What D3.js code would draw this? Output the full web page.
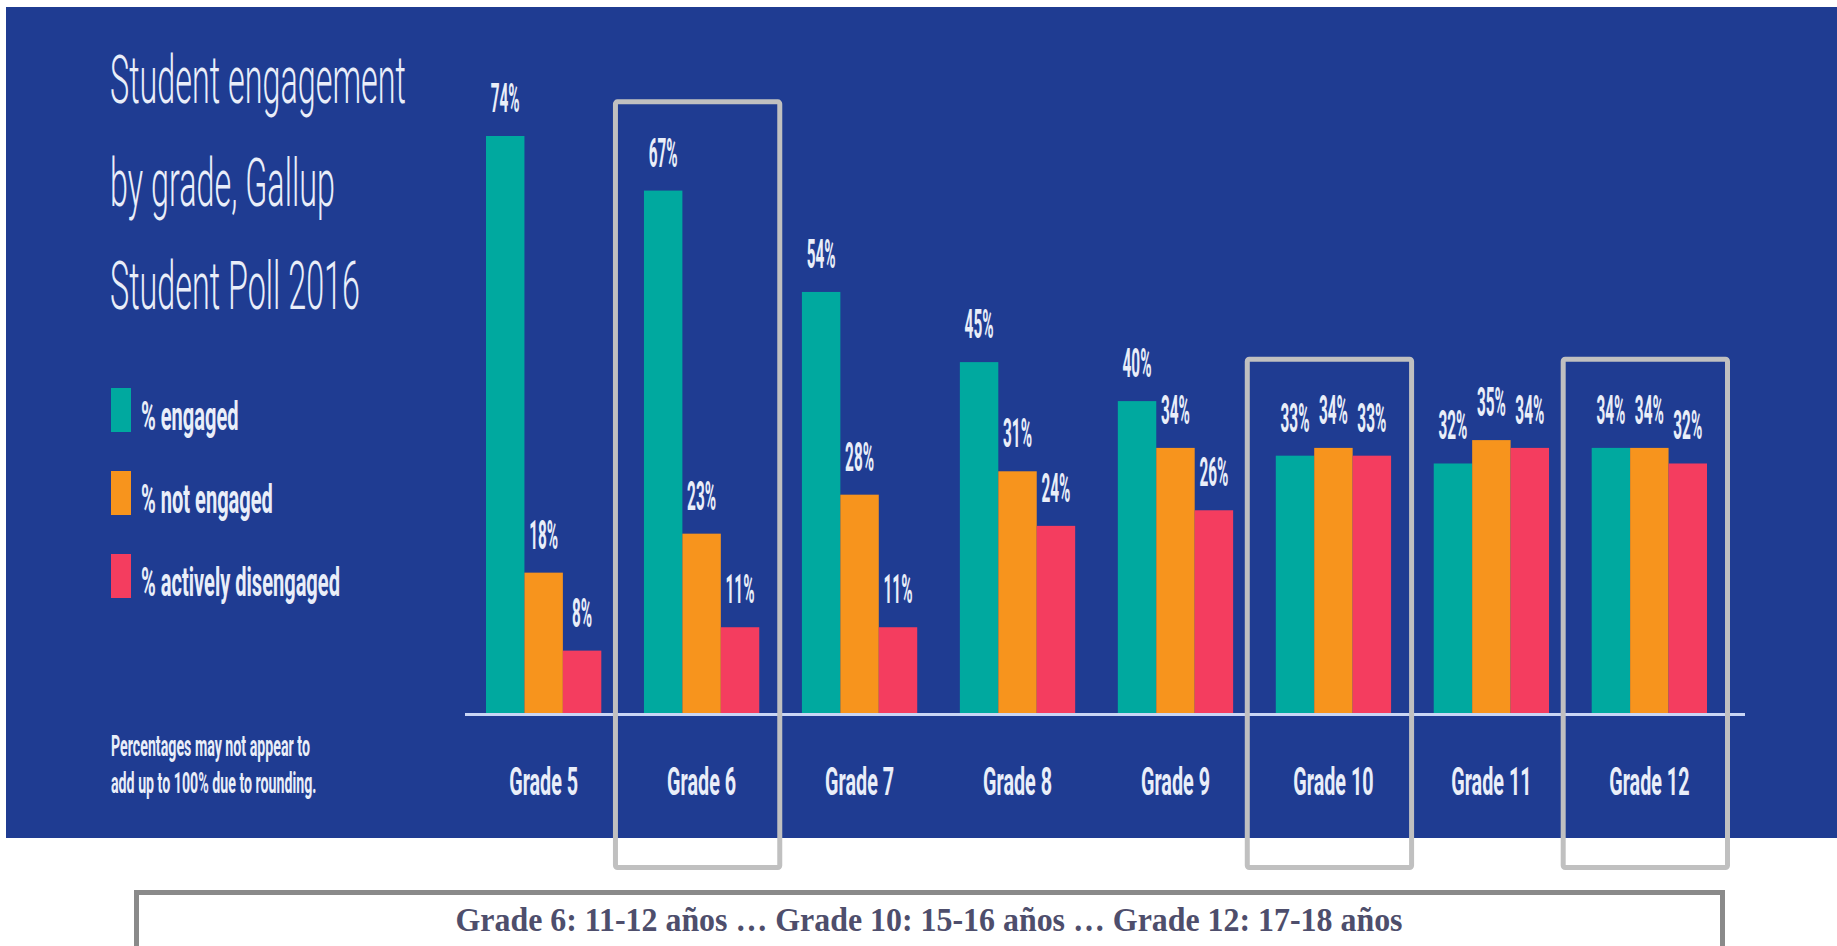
<!DOCTYPE html>
<html>
<head>
<meta charset="utf-8">
<script src="https://cdn.jsdelivr.net/npm/d3@7"></script>
<style>
  body { margin: 0; background: #fff; }
  svg { display: block; }
</style>
</head>
<body>
<svg id="chart" width="1837" height="946"></svg>
<script>
// data
const grades = ["Grade 5", "Grade 6", "Grade 7", "Grade 8", "Grade 9", "Grade 10", "Grade 11", "Grade 12"];
const engaged = [74, 67, 54, 45, 40, 33, 32, 34];
const notEngaged = [18, 23, 28, 31, 34, 34, 35, 34];
const disengaged = [8, 11, 11, 24, 26, 33, 34, 32];
const seriesNames = ["% engaged", "% not engaged", "% actively disengaged"];
const highlighted = ["Grade 6", "Grade 10", "Grade 12"];
const titleLines = ["Student engagement", "by grade, Gallup", "Student Poll 2016"];
const noteLines = ["Percentages may not appear to", "add up to 100% due to rounding."];
const caption = "Grade 6: 11-12 años \u2026 Grade 10: 15-16 años \u2026 Grade 12: 17-18 años";

const colors = ["#00a99f", "#f7941d", "#f43d5f"];
const textCol = "#e9eef9";
const series = [engaged, notEngaged, disengaged];

const svg = d3.select("#chart");

// blue panel
svg.append("rect")
    .attr("x", 6).attr("y", 7)
    .attr("width", 1831).attr("height", 831)
    .attr("fill", "#1f3c92");

// squeeze text horizontally so it looks like the condensed face of the original
function squeeze(sel, sx) {
    sel.each(function () {
        let t = d3.select(this);
        let x = +t.attr("x"), y = +t.attr("y");
        t.attr("x", 0).attr("y", 0)
            .attr("transform", "translate(" + x + "," + y + ") scale(" + sx + ",1)");
    });
}
function factor(sel, target) {
    return target / sel.node().getComputedTextLength();
}

// title
let title = svg.append("g").selectAll("text")
    .data(titleLines)
    .enter().append("text")
    .attr("x", 110)
    .attr("y", (d, i) => 103 + i * 103)
    .attr("fill", textCol)
    .style("font-family", "Roboto, 'Open Sans', sans-serif")
    .style("font-weight", 300)
    .style("font-size", "66px")
    .text(d => d);
squeeze(title, factor(title.filter((d, i) => i == 0), 296));

// legend
let legend = svg.append("g").selectAll("g")
    .data(seriesNames)
    .enter().append("g");
legend.append("rect")
    .attr("x", 111)
    .attr("y", (d, i) => 388 + i * 83)
    .attr("width", 20)
    .attr("height", 44)
    .attr("fill", (d, i) => colors[i]);
let legendText = legend.append("text")
    .attr("x", 141)
    .attr("y", (d, i) => 430 + i * 83)
    .attr("fill", textCol)
    .style("font-family", "Roboto, sans-serif")
    .style("font-weight", 700)
    .style("font-size", "40px")
    .text(d => d);
squeeze(legendText, factor(legendText.filter((d, i) => i == 2), 199));

// footnote
let note = svg.append("g").selectAll("text")
    .data(noteLines)
    .enter().append("text")
    .attr("x", 111)
    .attr("y", (d, i) => 756 + i * 37)
    .attr("fill", textCol)
    .style("font-family", "Roboto, sans-serif")
    .style("font-weight", 700)
    .style("font-size", "29px")
    .text(d => d);
squeeze(note, factor(note.filter((d, i) => i == 0), 199));

// scales
let xScale = d3.scaleBand()
    .domain(grades)
    .range([486, 1707])
    .paddingInner(0.27)
    .paddingOuter(0);
let xInner = d3.scaleBand()
    .domain(d3.range(series.length))
    .range([0, xScale.bandwidth()]);
let yScale = d3.scaleLinear()
    .domain([0, d3.max(engaged)])
    .range([713, 136]);

// bars
let groups = svg.append("g").selectAll("g")
    .data(grades)
    .enter().append("g")
    .attr("transform", d => "translate(" + xScale(d) + ",0)");

let cells = groups.selectAll("g")
    .data((g, gi) => series.map((s, si) => ({ s: si, v: s[gi] })))
    .enter().append("g");

cells.append("rect")
    .attr("x", d => xInner(d.s))
    .attr("y", d => yScale(d.v))
    .attr("width", xInner.bandwidth())
    .attr("height", d => yScale(0) - yScale(d.v))
    .attr("fill", d => colors[d.s]);

let valueLabels = cells.append("text")
    .attr("x", d => xInner(d.s) + xInner.bandwidth() / 2)
    .attr("y", d => yScale(d.v) - 24)
    .attr("fill", textCol)
    .style("text-anchor", "middle")
    .style("font-family", "Roboto, sans-serif")
    .style("font-weight", 700)
    .style("font-size", "41px")
    .text(d => d.v + "%");
let labelSx = factor(valueLabels.filter((d, i, n) => d.v == 74), 29);
squeeze(valueLabels, labelSx);

// baseline
svg.append("line")
    .attr("x1", xScale.range()[0] - 21)
    .attr("x2", xScale.range()[1] + 38)
    .attr("y1", yScale(0) + 1.5)
    .attr("y2", yScale(0) + 1.5)
    .attr("stroke", "#c9d6f5")
    .attr("stroke-width", 3);

// category labels
let catLabels = svg.append("g").selectAll("text")
    .data(grades)
    .enter().append("text")
    .attr("x", d => xScale(d) + xScale.bandwidth() / 2)
    .attr("y", 795)
    .attr("fill", textCol)
    .style("text-anchor", "middle")
    .style("font-family", "Roboto, sans-serif")
    .style("font-weight", 700)
    .style("font-size", "39px")
    .text(d => d);
squeeze(catLabels, factor(catLabels.filter(d => d == "Grade 5"), 69));

// highlight boxes
svg.append("g").selectAll("rect")
    .data(highlighted)
    .enter().append("rect")
    .attr("x", d => xScale(d) - 31 + 2.5)
    .attr("y", d => {
        let i = grades.indexOf(d);
        return yScale(d3.max(series, s => s[i]) + 11.7) + 2.5;
    })
    .attr("width", xScale.bandwidth() + 54 - 5)
    .attr("height", d => {
        let i = grades.indexOf(d);
        return 870 - 2.5 - (yScale(d3.max(series, s => s[i]) + 11.7) + 2.5);
    })
    .attr("rx", 2)
    .attr("fill", "none")
    .attr("stroke", "#c0c0c0")
    .attr("stroke-width", 5);

// caption box
svg.append("rect")
    .attr("x", 136.5).attr("y", 892.5)
    .attr("width", 1586).attr("height", 120)
    .attr("fill", "none")
    .attr("stroke", "#8a8a8a")
    .attr("stroke-width", 5);

svg.append("text")
    .attr("x", 929)
    .attr("y", 931)
    .attr("fill", "#4e4e6c")
    .style("text-anchor", "middle")
    .style("font-family", "'Liberation Serif', 'Times New Roman', serif")
    .style("font-weight", 700)
    .style("font-size", "34px")
    .attr("textLength", 947)
    .attr("lengthAdjust", "spacingAndGlyphs")
    .text(caption);
</script>
</body>
</html>
